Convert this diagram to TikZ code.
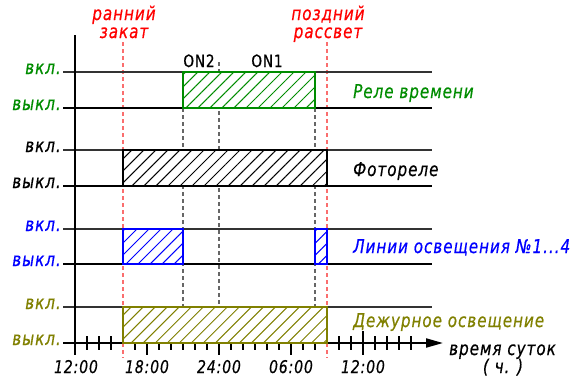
\documentclass[tikz,border=0pt]{standalone}
\usepackage{fontspec}
\setmainfont{DejaVu Sans}[FakeStretch=0.8,LetterSpace=5,FakeBold=0.5]
\usetikzlibrary{arrows.meta,patterns.meta}
\definecolor{relgreen}{RGB}{0,140,0}
\definecolor{myred}{RGB}{255,0,0}
\definecolor{redline}{RGB}{250,110,110}
\definecolor{myblue}{RGB}{0,0,255}
\definecolor{myolive}{RGB}{128,128,0}
\tikzset{
  lab/.style={font=\fontsize{19}{21}\selectfont\itshape, inner sep=0pt},
  timelab/.style={font=\fontsize{17.5}{19}\selectfont\itshape, inner sep=0pt, anchor=base},
  onlab/.style={font=\fontsize{17}{19}\selectfont, inner sep=0pt, anchor=base},
  onlevel/.style={line width=1.2pt, black!80},
  offlevel/.style={line width=2pt, black},
  guide/.style={black!60, line width=1.3pt, dash pattern=on 4pt off 3pt},
  sunline/.style={redline, line width=1.3pt, dash pattern=on 4pt off 3pt},
  hatchbox/.style={line width=2.2pt, draw=#1, preaction={fill=white},
    pattern={Lines[angle=45,distance=8.5pt,line width=1pt]}, pattern color=#1},
  tickmark/.style={line width=2pt, black},
}
\begin{document}
\begin{tikzpicture}[x=1pt,y=-1pt]
\useasboundingbox (0,0) rectangle (576,378);
% guide coordinates
\coordinate (g1t) at (183,108); \coordinate (g1b) at (183,307);
\coordinate (g2t) at (219,62);  \coordinate (g2b) at (219,307);
\coordinate (g3t) at (315,108); \coordinate (g3b) at (315,307);
\coordinate (s1t) at (123,42);  \coordinate (s1b) at (123,358);
\coordinate (s2t) at (327,42);  \coordinate (s2b) at (327,358);
\draw[guide] (g1t) -- (g1b);
\draw[guide] (g2t) -- (g2b);
\draw[guide] (g3t) -- (g3b);
\draw[sunline] (s1t) -- (s1b);
\draw[sunline] (s2t) -- (s2b);
% level lines
\foreach \y/\n in {72/a,150/b,229/c,307/d}{
  \coordinate (on\n L) at (63,\y); \coordinate (on\n R) at (432,\y);
  \draw[onlevel] (on\n L) -- (on\n R);
}
\foreach \y/\n in {108/a,186/b,264/c}{
  \coordinate (off\n L) at (63,\y); \coordinate (off\n R) at (432,\y);
  \draw[offlevel] (off\n L) -- (off\n R);
}
% axes
\coordinate (axL) at (63,343); \coordinate (axR) at (443,343);
\draw[offlevel, -{Triangle[length=17pt,width=9pt]}] (axL) -- (axR);
\coordinate (vaT) at (75,35); \coordinate (vaB) at (75,355);
\draw[line width=2.2pt] (vaT) -- (vaB);
% ticks
\foreach \i in {1,2,3,5,7,8,9,10,11,13,14,15,16,17,19,20,22,23,25,26,27,28}{
  \draw[tickmark] (75+12*\i,336) -- (75+12*\i,350);
}
\foreach \i in {6,12,18,24}{
  \draw[tickmark] (75+12*\i,331) -- (75+12*\i,355);
}
% boxes
\draw[hatchbox=relgreen] (183,72) rectangle (315,108);
\draw[hatchbox=black] (123,150) rectangle (327,186);
\draw[hatchbox=myblue] (123,229) rectangle (183,264);
\draw[hatchbox=myblue] (315,229) rectangle (327,264);
\draw[hatchbox=myolive] (123,307) rectangle (327,343);
% left labels
\node[lab, text=relgreen, anchor=base east] (l1on) at (61,74) {вкл.};
\node[lab, text=relgreen, anchor=base east] (l1off) at (61,110) {выкл.};
\node[lab, text=black, anchor=base east] (l2on) at (61,152) {вкл.};
\node[lab, text=black, anchor=base east] (l2off) at (61,188) {выкл.};
\node[lab, text=myblue, anchor=base east] (l3on) at (61,231) {вкл.};
\node[lab, text=myblue, anchor=base east] (l3off) at (61,266) {выкл.};
\node[lab, text=myolive, anchor=base east] (l4on) at (61,309) {вкл.};
\node[lab, text=myolive, anchor=base east] (l4off) at (61,345) {выкл.};
% right labels
\node[lab, text=relgreen, anchor=base west] (r1) at (353,98) {Реле времени};
\node[lab, text=black, anchor=base west] (r2) at (353,176) {Фотореле};
\node[lab, text=myblue, anchor=base west] (r3) at (353,253) {Линии освещения №1...4};
\node[lab, text=myolive, anchor=base west] (r4) at (353,327) {Дежурное освещение};
% sun labels
\node[lab, text=myred, anchor=base] (sun1a) at (124,20) {ранний};
\node[lab, text=myred, anchor=base] (sun1b) at (124,38) {закат};
\node[lab, text=myred, anchor=base] (sun2a) at (328,20) {поздний};
\node[lab, text=myred, anchor=base] (sun2b) at (328,38) {рассвет};
% ON labels
\node[onlab] (on2) at (199,67) {ON2};
\node[onlab] (on1) at (267,67) {ON1};
% time labels
\node[timelab] (t12a) at (76,373) {12:00};
\node[timelab] (t18) at (147,373) {18:00};
\node[timelab] (t24) at (219,373) {24:00};
\node[timelab] (t06) at (291,373) {06:00};
\node[timelab] (t12b) at (363,373) {12:00};
\node[lab, anchor=base west] (tt1) at (449,355) {время суток};
\node[lab, anchor=base] (tt2) at (503,373) {( ч. )};
\end{tikzpicture}
\end{document}
